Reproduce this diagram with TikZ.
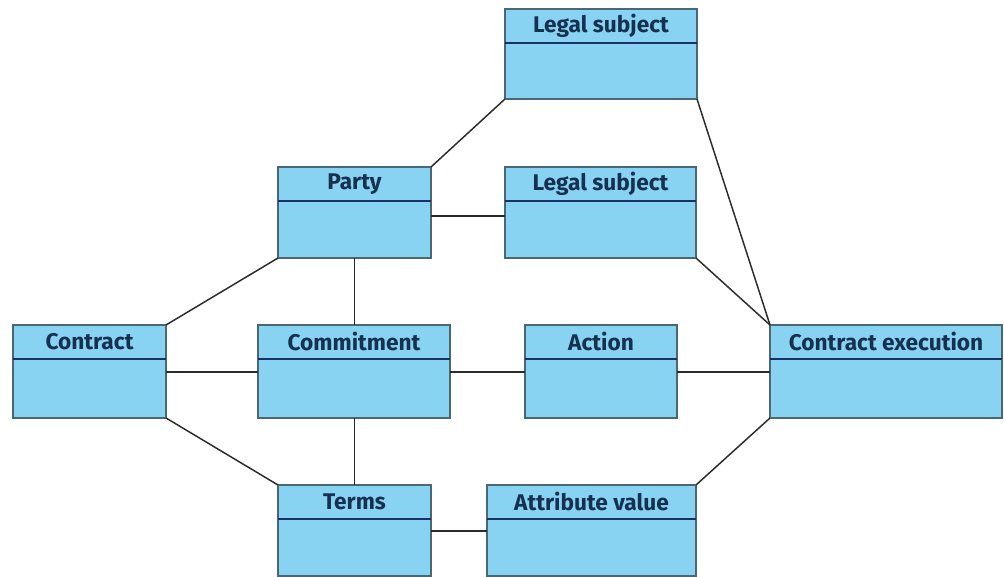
\documentclass[tikz,border=0pt]{standalone}
\usepackage{fontspec}
\setmainfont{Fira Sans}
\usetikzlibrary{calc}
\definecolor{boxfill}{HTML}{88D2F2}
\definecolor{boxedge}{HTML}{4A6874}
\definecolor{headline}{HTML}{1C2F66}
\definecolor{labeltext}{HTML}{16304F}
\definecolor{wire}{HTML}{2A2A2A}
\tikzset{
  classbox/.style={draw=boxedge, fill=boxfill, line width=1.4pt, rectangle,
    anchor=north west, inner sep=0pt, outer sep=0pt},
  classname/.style={font=\bfseries\fontsize{17}{19}\selectfont, text=labeltext, inner sep=0pt},
  assoc/.style={draw=wire, line width=1.1pt}
}
% \classbox{name}{left}{top}{right}{bottom}{title}
\newcommand{\classbox}[6]{%
  \node[classbox, minimum width={(#4-#2)*0.75pt}, minimum height={(#5-#3)*0.75pt}] (#1) at (#2,#3) {};
  \draw[headline, line width=1.1pt] ([yshift=-34*0.75pt]#1.north west) -- ([yshift=-34*0.75pt]#1.north east);
  \node[classname] (#1-t) at ([yshift=-17*0.75pt]#1.north) {#6};
}
\begin{document}
\begin{tikzpicture}[x=0.75pt, y=-0.75pt]
\useasboundingbox (0,0) rectangle (1004,577);

\classbox{legalA}{505}{9}{697}{99}{Legal subject}
\classbox{party}{278}{167}{431}{258}{Party}
\classbox{legalB}{505}{167}{696}{258}{Legal subject}
\classbox{contract}{13}{325}{166}{418}{Contract}
\classbox{commit}{258}{325}{450}{418}{Commitment}
\classbox{action}{525}{325}{677}{418}{Action}
\classbox{exec}{770}{325}{1002}{418}{Contract execution}
\classbox{terms}{278}{485}{431}{576}{Terms}
\classbox{attr}{487}{485}{696}{576}{Attribute value}

% associations
\draw[assoc] (legalA.south west) -- (party.north east);
\draw[assoc] (legalA.south east) -- (exec.north west);
\draw[assoc] (legalB.south east) -- (exec.north west);
\draw[assoc] ([yshift=-49*0.75pt]party.north east) -- ([yshift=-49*0.75pt]legalB.north west);
\draw[assoc] (party.south) -- (party.south |- commit.north);
\draw[assoc] (contract.north east) -- (party.south west);
\draw[assoc] ([yshift=-47*0.75pt]contract.north east) -- ([yshift=-47*0.75pt]commit.north west);
\draw[assoc] ([yshift=-47*0.75pt]commit.north east) -- ([yshift=-47*0.75pt]action.north west);
\draw[assoc] ([yshift=-47*0.75pt]action.north east) -- ([yshift=-47*0.75pt]exec.north west);
\draw[assoc] (party.south |- commit.south) -- (party.south |- terms.north);
\draw[assoc] (contract.south east) -- (terms.north west);
\draw[assoc] ([yshift=-46*0.75pt]terms.north east) -- ([yshift=-46*0.75pt]attr.north west);
\draw[assoc] (attr.north east) -- (exec.south west);
\end{tikzpicture}
\end{document}
